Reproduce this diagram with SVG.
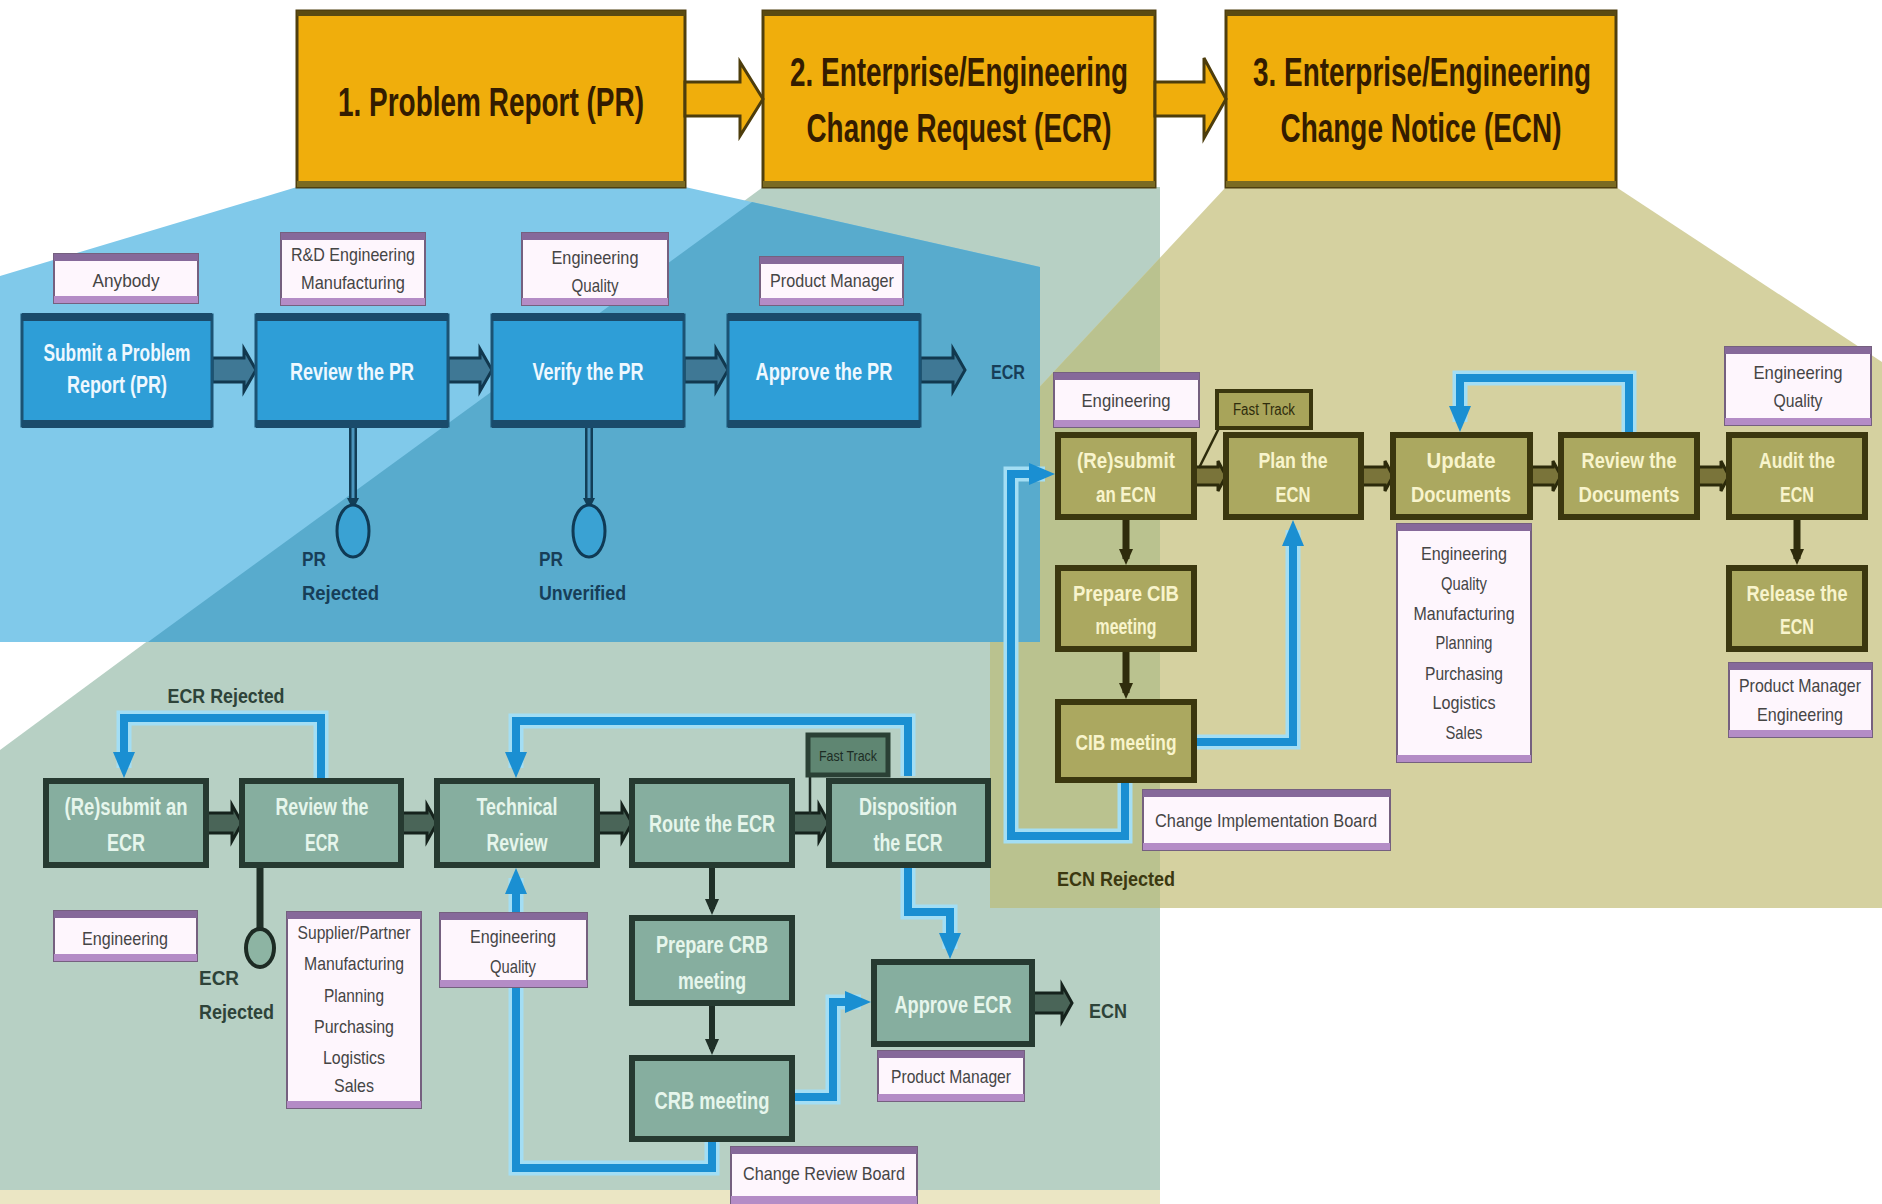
<svg xmlns="http://www.w3.org/2000/svg" width="1882" height="1204" viewBox="0 0 1882 1204">
<defs>
<style>
text{font-family:"Liberation Sans Narrow","Liberation Sans",Arial,sans-serif}
.ttl{font-size:40px;font-weight:bold;fill:#341c00;text-anchor:middle}
.obox{fill:#f0ae0c;stroke:#4f3f0e;stroke-width:3}
.oband{fill:#5a4a12}
.oband2{fill:#7a6a22}
.prbox{fill:#2e9ed7;stroke:#1b5374;stroke-width:3}
.prband{fill:#1a4b6b}
.tpr{font-size:24px;font-weight:bold;fill:#eef8ff;text-anchor:middle}
.ecrbox{fill:#86ae9f;stroke:#263a31;stroke-width:6}
.tecr{font-size:24px;font-weight:bold;fill:#e6f6ec;text-anchor:middle}
.ecnbox{fill:#aba860;stroke:#3b370f;stroke-width:6}
.tecn{font-size:22px;font-weight:bold;fill:#f8f4cc;text-anchor:middle}
.lbg{fill:#fef6fd;stroke:#75607f;stroke-width:2}
.ltop{fill:#86699a}
.lbot{fill:#b48cc6}
.tl{font-size:19px;fill:#454545;text-anchor:middle}
.npr{font-size:21px;font-weight:bold;fill:#173e58}
.necr{font-size:20px;font-weight:bold;fill:#2e4339}
.necn{font-size:20px;font-weight:bold;fill:#3b3810}
.halo{fill:none;stroke:#a3def4;stroke-width:15;stroke-linejoin:miter}
.bl{fill:none;stroke:#1a8fd2;stroke-width:8;stroke-linejoin:miter;marker-end:url(#bh)}
.fpr{fill:#3f7895;stroke:#11384f;stroke-width:3}
.fecr{fill:#4a6558;stroke:#15221c;stroke-width:3}
.fecn{fill:#7a743a;stroke:#2c2a0a;stroke-width:3}
.forg{fill:#f0ae0c;stroke:#4d3d0c;stroke-width:3}
.vd{fill:none;stroke:#1f2f27;stroke-width:6;marker-end:url(#dh)}
.vo{fill:none;stroke:#2f2c0c;stroke-width:7;marker-end:url(#oh)}
</style>
<marker id="bh" viewBox="0 0 26 22" refX="16" refY="11" markerWidth="26" markerHeight="22" markerUnits="userSpaceOnUse" orient="auto"><path d="M0,0 L26,11 L0,22 z" fill="#1a8fd2"/></marker>
<marker id="dh" viewBox="0 0 16 14" refX="10" refY="7" markerWidth="16" markerHeight="14" markerUnits="userSpaceOnUse" orient="auto"><path d="M0,0 L16,7 L0,14 z" fill="#1f2f27"/></marker>
<marker id="oh" viewBox="0 0 16 14" refX="10" refY="7" markerWidth="16" markerHeight="14" markerUnits="userSpaceOnUse" orient="auto"><path d="M0,0 L16,7 L0,14 z" fill="#2f2c0c"/></marker>
</defs>
<rect width="1882" height="1204" fill="#ffffff"/>
<g id="regions">
<polygon points="763,187 1160,187 1160,1190 0,1190 0,750" fill="#b7d0c4"/>
<rect x="0" y="1190" width="1160" height="14" fill="#ebe6c4"/>
<polygon points="1226,187 1616,187 1882,362 1882,908 990,908 990,440" fill="#d5d1a0"/>
<polygon points="1160,258 1160,908 990,908 990,440" fill="#bac28f"/>
<polygon points="297,187 685,187 1040,267 1040,642 0,642 0,276" fill="#80c9ea"/>
<polygon points="752,202 1040,267 1040,642 148,642" fill="#58abcd"/>
</g>
<g id="title-pr">
<rect class="obox" x="297" y="11" width="388" height="176"/>
<rect class="oband" x="297" y="11" width="388" height="5"/>
<rect class="oband2" x="297" y="181" width="388" height="6"/>
<text class="ttl" x="491" y="116" font-size="44" textLength="306" lengthAdjust="spacingAndGlyphs">1. Problem Report (PR)</text>
</g>
<g id="title-ecr">
<rect class="obox" x="763" y="11" width="392" height="176"/>
<rect class="oband" x="763" y="11" width="392" height="5"/>
<rect class="oband2" x="763" y="181" width="392" height="6"/>
<text class="ttl" x="959" y="86" textLength="338" lengthAdjust="spacingAndGlyphs">2. Enterprise/Engineering</text>
<text class="ttl" x="959" y="142" textLength="305" lengthAdjust="spacingAndGlyphs">Change Request (ECR)</text>
</g>
<g id="title-ecn">
<rect class="obox" x="1226" y="11" width="390" height="176"/>
<rect class="oband" x="1226" y="11" width="390" height="5"/>
<rect class="oband2" x="1226" y="181" width="390" height="6"/>
<text class="ttl" x="1422" y="86" textLength="338" lengthAdjust="spacingAndGlyphs">3. Enterprise/Engineering</text>
<text class="ttl" x="1421" y="142" textLength="281" lengthAdjust="spacingAndGlyphs">Change Notice (ECN)</text>
</g>
<g id="connectors">
<polygon class="forg" points="685,82 740,82 740,62 763,99 740,136 740,116 685,116"/>
<polygon class="forg" points="1155,82 1204,82 1204,58 1226,99 1204,138 1204,116 1155,116"/>
<polygon class="fpr" points="212,358 244,358 244,349 256,370 244,391 244,382 212,382"/>
<polygon class="fpr" points="448,358 480,358 480,349 492,370 480,391 480,382 448,382"/>
<polygon class="fpr" points="684,358 716,358 716,349 728,370 716,391 716,382 684,382"/>
<polygon class="fpr" points="920,358 953,358 953,349 965,370 953,391 953,382 920,382"/>
<line x1="353" y1="428" x2="353" y2="500" stroke="#123e57" stroke-width="8"/>
<line x1="353" y1="428" x2="353" y2="500" stroke="#4a95bd" stroke-width="3"/>
<polygon points="347,498 359,498 355,506 351,506" fill="#123e57"/>
<line x1="589" y1="428" x2="589" y2="500" stroke="#123e57" stroke-width="8"/>
<line x1="589" y1="428" x2="589" y2="500" stroke="#4a95bd" stroke-width="3"/>
<polygon points="583,498 595,498 591,506 587,506" fill="#123e57"/>
<polygon class="fecr" points="206,813 232,813 232,805 242,823 232,841 232,833 206,833"/>
<polygon class="fecr" points="401,813 427,813 427,805 437,823 427,841 427,833 401,833"/>
<polygon class="fecr" points="597,813 622,813 622,805 632,823 622,841 622,833 597,833"/>
<polygon class="fecr" points="792,813 819,813 819,805 829,823 819,841 819,833 792,833"/>
<polygon class="fecr" points="1032,993 1062,993 1062,985 1072,1003 1062,1021 1062,1013 1032,1013"/>
<line x1="260" y1="868" x2="260" y2="930" stroke="#1f2f27" stroke-width="7"/>
<line x1="810" y1="776" x2="810" y2="814" stroke="#1d2b24" stroke-width="2.5"/>
<path class="vd" d="M712,868 V909"/>
<path class="vd" d="M712,1006 V1049"/>
<polygon class="fecn" points="1194,467 1218,467 1218,461 1226,476 1218,491 1218,485 1194,485"/>
<polygon class="fecn" points="1361,467 1385,467 1385,461 1393,476 1385,491 1385,485 1361,485"/>
<polygon class="fecn" points="1530,467 1553,467 1553,461 1561,476 1553,491 1553,485 1530,485"/>
<polygon class="fecn" points="1697,467 1721,467 1721,461 1729,476 1721,491 1721,485 1697,485"/>
<line x1="1219" y1="428" x2="1199" y2="468" stroke="#2c2a0a" stroke-width="2.5"/>
<path class="vo" d="M1126,520 V559"/>
<path class="vo" d="M1126,652 V693"/>
<path class="vo" d="M1797,520 V559"/>
<path class="halo" d="M321,778 V718 H124 V768"/>
<path class="halo" d="M908,776 V721 H516 V768"/>
<path class="halo" d="M712,1142 V1168 H516 V878"/>
<path class="halo" d="M795,1097 H833 V1002 H861"/>
<path class="halo" d="M908,868 V912 H950 V949"/>
<path class="halo" d="M1629,432 V378 H1460 V422"/>
<path class="halo" d="M1197,742 H1293 V530"/>
<path class="halo" d="M1125,783 V836 H1011 V474 H1045"/>
<path class="bl" d="M321,778 V718 H124 V768"/>
<path class="bl" d="M908,776 V721 H516 V768"/>
<path class="bl" d="M712,1142 V1168 H516 V878"/>
<path class="bl" d="M795,1097 H833 V1002 H861"/>
<path class="bl" d="M908,868 V912 H950 V949"/>
<path class="bl" d="M1629,432 V378 H1460 V422"/>
<path class="bl" d="M1197,742 H1293 V530"/>
<path class="bl" d="M1125,783 V836 H1011 V474 H1045"/>
</g>
<g id="pr-submit"><rect class="prbox" x="22" y="315" width="190" height="111"/><rect class="prband" x="22" y="313" width="190" height="8"/><rect class="prband" x="22" y="420" width="190" height="8"/>
<text class="tpr" x="117" y="361" textLength="147" lengthAdjust="spacingAndGlyphs">Submit a Problem</text><text class="tpr" x="117" y="393" textLength="100" lengthAdjust="spacingAndGlyphs">Report (PR)</text></g>
<g id="pr-review"><rect class="prbox" x="256" y="315" width="192" height="111"/><rect class="prband" x="256" y="313" width="192" height="8"/><rect class="prband" x="256" y="420" width="192" height="8"/>
<text class="tpr" x="352" y="380" textLength="124" lengthAdjust="spacingAndGlyphs">Review the PR</text></g>
<g id="pr-verify"><rect class="prbox" x="492" y="315" width="192" height="111"/><rect class="prband" x="492" y="313" width="192" height="8"/><rect class="prband" x="492" y="420" width="192" height="8"/>
<text class="tpr" x="588" y="380" textLength="111" lengthAdjust="spacingAndGlyphs">Verify the PR</text></g>
<g id="pr-approve"><rect class="prbox" x="728" y="315" width="192" height="111"/><rect class="prband" x="728" y="313" width="192" height="8"/><rect class="prband" x="728" y="420" width="192" height="8"/>
<text class="tpr" x="824" y="380" textLength="137" lengthAdjust="spacingAndGlyphs">Approve the PR</text></g>
<g id="pr-rejected-end"><ellipse cx="353" cy="531" rx="16" ry="26" fill="#3aa2d3" stroke="#0f3a55" stroke-width="3"/>
<text class="npr" x="302" y="566" textLength="24" lengthAdjust="spacingAndGlyphs">PR</text><text class="npr" x="302" y="600" textLength="77" lengthAdjust="spacingAndGlyphs">Rejected</text></g>
<g id="pr-unverified-end"><ellipse cx="589" cy="531" rx="16" ry="26" fill="#3aa2d3" stroke="#0f3a55" stroke-width="3"/>
<text class="npr" x="539" y="566" textLength="24" lengthAdjust="spacingAndGlyphs">PR</text><text class="npr" x="539" y="600" textLength="87" lengthAdjust="spacingAndGlyphs">Unverified</text></g>
<g id="pr-out"><text class="npr" x="991" y="379" textLength="34" lengthAdjust="spacingAndGlyphs">ECR</text></g>
<g id="lbl-anybody"><rect class="lbg" x="54" y="254" width="144" height="49"/><rect class="ltop" x="54" y="254" width="144" height="7"/><rect class="lbot" x="54" y="296" width="144" height="7"/>
<text class="tl" x="126" y="287" textLength="67" lengthAdjust="spacingAndGlyphs">Anybody</text></g>
<g id="lbl-rd"><rect class="lbg" x="281" y="233" width="144" height="72"/><rect class="ltop" x="281" y="233" width="144" height="7"/><rect class="lbot" x="281" y="298" width="144" height="7"/>
<text class="tl" x="353" y="261" textLength="124" lengthAdjust="spacingAndGlyphs">R&amp;D Engineering</text><text class="tl" x="353" y="289" textLength="104" lengthAdjust="spacingAndGlyphs">Manufacturing</text></g>
<g id="lbl-engq1"><rect class="lbg" x="522" y="233" width="146" height="72"/><rect class="ltop" x="522" y="233" width="146" height="7"/><rect class="lbot" x="522" y="298" width="146" height="7"/>
<text class="tl" x="595" y="264" textLength="87" lengthAdjust="spacingAndGlyphs">Engineering</text><text class="tl" x="595" y="292" textLength="47" lengthAdjust="spacingAndGlyphs">Quality</text></g>
<g id="lbl-pm1"><rect class="lbg" x="760" y="257" width="143" height="48"/><rect class="ltop" x="760" y="257" width="143" height="7"/><rect class="lbot" x="760" y="298" width="143" height="7"/>
<text class="tl" x="832" y="287" textLength="124" lengthAdjust="spacingAndGlyphs">Product Manager</text></g>
<g id="ecr-resubmit"><rect class="ecrbox" x="46" y="781" width="160" height="84"/>
<text class="tecr" x="126" y="815" textLength="123" lengthAdjust="spacingAndGlyphs">(Re)submit an</text><text class="tecr" x="126" y="851" textLength="38" lengthAdjust="spacingAndGlyphs">ECR</text></g>
<g id="ecr-review"><rect class="ecrbox" x="242" y="781" width="159" height="84"/>
<text class="tecr" x="322" y="815" textLength="93" lengthAdjust="spacingAndGlyphs">Review the</text><text class="tecr" x="322" y="851" textLength="34" lengthAdjust="spacingAndGlyphs">ECR</text></g>
<g id="ecr-technical"><rect class="ecrbox" x="437" y="781" width="160" height="84"/>
<text class="tecr" x="517" y="815" textLength="81" lengthAdjust="spacingAndGlyphs">Technical</text><text class="tecr" x="517" y="851" textLength="61" lengthAdjust="spacingAndGlyphs">Review</text></g>
<g id="ecr-route"><rect class="ecrbox" x="632" y="781" width="160" height="84"/>
<text class="tecr" x="712" y="832" textLength="126" lengthAdjust="spacingAndGlyphs">Route the ECR</text></g>
<g id="ecr-disposition"><rect class="ecrbox" x="829" y="781" width="159" height="84"/>
<text class="tecr" x="908" y="815" textLength="98" lengthAdjust="spacingAndGlyphs">Disposition</text><text class="tecr" x="908" y="851" textLength="69" lengthAdjust="spacingAndGlyphs">the ECR</text></g>
<g id="ecr-fasttrack"><rect x="808" y="735" width="80" height="40" fill="#5f8672" stroke="#2a4035" stroke-width="5"/>
<text x="848" y="761" font-size="15" fill="#1d2d25" text-anchor="middle" textLength="58" lengthAdjust="spacingAndGlyphs">Fast Track</text></g>
<g id="ecr-prepare"><rect class="ecrbox" x="632" y="918" width="160" height="85"/>
<text class="tecr" x="712" y="953" textLength="112" lengthAdjust="spacingAndGlyphs">Prepare CRB</text><text class="tecr" x="712" y="989" textLength="68" lengthAdjust="spacingAndGlyphs">meeting</text></g>
<g id="ecr-crb"><rect class="ecrbox" x="632" y="1058" width="160" height="81"/>
<text class="tecr" x="712" y="1109" textLength="115" lengthAdjust="spacingAndGlyphs">CRB meeting</text></g>
<g id="ecr-approve"><rect class="ecrbox" x="874" y="962" width="158" height="82"/>
<text class="tecr" x="953" y="1013" textLength="117" lengthAdjust="spacingAndGlyphs">Approve ECR</text></g>
<g id="ecr-rejected-end"><ellipse cx="260" cy="948" rx="14" ry="19" fill="#8db4a3" stroke="#1d2b24" stroke-width="4"/>
<text class="necr" x="199" y="985" textLength="40" lengthAdjust="spacingAndGlyphs">ECR</text><text class="necr" x="199" y="1019" textLength="75" lengthAdjust="spacingAndGlyphs">Rejected</text></g>
<g id="ecr-notes"><text class="necr" x="226" y="703" text-anchor="middle" textLength="117" lengthAdjust="spacingAndGlyphs">ECR Rejected</text>
<text class="necr" x="1089" y="1018" textLength="38" lengthAdjust="spacingAndGlyphs">ECN</text></g>
<g id="lbl-eng2"><rect class="lbg" x="54" y="911" width="143" height="50"/><rect class="ltop" x="54" y="911" width="143" height="7"/><rect class="lbot" x="54" y="954" width="143" height="7"/>
<text class="tl" x="125" y="945" textLength="86" lengthAdjust="spacingAndGlyphs">Engineering</text></g>
<g id="lbl-supplier"><rect class="lbg" x="287" y="912" width="134" height="196"/><rect class="ltop" x="287" y="912" width="134" height="7"/><rect class="lbot" x="287" y="1101" width="134" height="7"/>
<text class="tl" x="354" y="939" textLength="113" lengthAdjust="spacingAndGlyphs">Supplier/Partner</text>
<text class="tl" x="354" y="970" textLength="100" lengthAdjust="spacingAndGlyphs">Manufacturing</text>
<text class="tl" x="354" y="1002" textLength="60" lengthAdjust="spacingAndGlyphs">Planning</text>
<text class="tl" x="354" y="1033" textLength="80" lengthAdjust="spacingAndGlyphs">Purchasing</text>
<text class="tl" x="354" y="1064" textLength="62" lengthAdjust="spacingAndGlyphs">Logistics</text>
<text class="tl" x="354" y="1092" textLength="40" lengthAdjust="spacingAndGlyphs">Sales</text></g>
<g id="lbl-engq2"><rect class="lbg" x="440" y="913" width="147" height="74"/><rect class="ltop" x="440" y="913" width="147" height="7"/><rect class="lbot" x="440" y="980" width="147" height="7"/>
<text class="tl" x="513" y="943" textLength="86" lengthAdjust="spacingAndGlyphs">Engineering</text><text class="tl" x="513" y="973" textLength="46" lengthAdjust="spacingAndGlyphs">Quality</text></g>
<g id="lbl-pm2"><rect class="lbg" x="878" y="1051" width="146" height="50"/><rect class="ltop" x="878" y="1051" width="146" height="7"/><rect class="lbot" x="878" y="1094" width="146" height="7"/>
<text class="tl" x="951" y="1083" textLength="120" lengthAdjust="spacingAndGlyphs">Product Manager</text></g>
<g id="lbl-crb"><rect class="lbg" x="731" y="1147" width="186" height="62"/><rect class="ltop" x="731" y="1147" width="186" height="7"/><rect class="lbot" x="731" y="1196" width="186" height="8"/>
<text class="tl" x="824" y="1180" textLength="162" lengthAdjust="spacingAndGlyphs">Change Review Board</text></g>
<g id="ecn-resubmit"><rect class="ecnbox" x="1058" y="435" width="136" height="82"/>
<text class="tecn" x="1126" y="468" textLength="98" lengthAdjust="spacingAndGlyphs">(Re)submit</text><text class="tecn" x="1126" y="502" textLength="60" lengthAdjust="spacingAndGlyphs">an ECN</text></g>
<g id="ecn-plan"><rect class="ecnbox" x="1226" y="435" width="135" height="82"/>
<text class="tecn" x="1293" y="468" textLength="69" lengthAdjust="spacingAndGlyphs">Plan the</text><text class="tecn" x="1293" y="502" textLength="35" lengthAdjust="spacingAndGlyphs">ECN</text></g>
<g id="ecn-update"><rect class="ecnbox" x="1393" y="435" width="137" height="82"/>
<text class="tecn" x="1461" y="468" textLength="69" lengthAdjust="spacingAndGlyphs">Update</text><text class="tecn" x="1461" y="502" textLength="100" lengthAdjust="spacingAndGlyphs">Documents</text></g>
<g id="ecn-review"><rect class="ecnbox" x="1561" y="435" width="136" height="82"/>
<text class="tecn" x="1629" y="468" textLength="95" lengthAdjust="spacingAndGlyphs">Review the</text><text class="tecn" x="1629" y="502" textLength="101" lengthAdjust="spacingAndGlyphs">Documents</text></g>
<g id="ecn-audit"><rect class="ecnbox" x="1729" y="435" width="136" height="82"/>
<text class="tecn" x="1797" y="468" textLength="76" lengthAdjust="spacingAndGlyphs">Audit the</text><text class="tecn" x="1797" y="502" textLength="34" lengthAdjust="spacingAndGlyphs">ECN</text></g>
<g id="ecn-prepare"><rect class="ecnbox" x="1058" y="568" width="136" height="81"/>
<text class="tecn" x="1126" y="601" textLength="106" lengthAdjust="spacingAndGlyphs">Prepare CIB</text><text class="tecn" x="1126" y="634" textLength="61" lengthAdjust="spacingAndGlyphs">meeting</text></g>
<g id="ecn-cib"><rect class="ecnbox" x="1058" y="702" width="136" height="78"/>
<text class="tecn" x="1126" y="750" textLength="101" lengthAdjust="spacingAndGlyphs">CIB meeting</text></g>
<g id="ecn-release"><rect class="ecnbox" x="1729" y="568" width="136" height="81"/>
<text class="tecn" x="1797" y="601" textLength="101" lengthAdjust="spacingAndGlyphs">Release the</text><text class="tecn" x="1797" y="634" textLength="34" lengthAdjust="spacingAndGlyphs">ECN</text></g>
<g id="ecn-fasttrack"><rect x="1217" y="391" width="94" height="37" fill="#a8a45a" stroke="#3a360e" stroke-width="4"/>
<text x="1264" y="415" font-size="16" fill="#2f2c0c" text-anchor="middle" textLength="62" lengthAdjust="spacingAndGlyphs">Fast Track</text></g>
<g id="ecn-notes"><text class="necn" x="1116" y="886" text-anchor="middle" textLength="118" lengthAdjust="spacingAndGlyphs">ECN Rejected</text></g>
<g id="lbl-eng3"><rect class="lbg" x="1054" y="373" width="145" height="54"/><rect class="ltop" x="1054" y="373" width="145" height="7"/><rect class="lbot" x="1054" y="420" width="145" height="7"/>
<text class="tl" x="1126" y="407" textLength="89" lengthAdjust="spacingAndGlyphs">Engineering</text></g>
<g id="lbl-engq3"><rect class="lbg" x="1725" y="347" width="146" height="78"/><rect class="ltop" x="1725" y="347" width="146" height="7"/><rect class="lbot" x="1725" y="418" width="146" height="7"/>
<text class="tl" x="1798" y="379" textLength="89" lengthAdjust="spacingAndGlyphs">Engineering</text><text class="tl" x="1798" y="407" textLength="49" lengthAdjust="spacingAndGlyphs">Quality</text></g>
<g id="lbl-update"><rect class="lbg" x="1397" y="524" width="134" height="238"/><rect class="ltop" x="1397" y="524" width="134" height="7"/><rect class="lbot" x="1397" y="755" width="134" height="7"/>
<text class="tl" x="1464" y="560" textLength="86" lengthAdjust="spacingAndGlyphs">Engineering</text>
<text class="tl" x="1464" y="590" textLength="46" lengthAdjust="spacingAndGlyphs">Quality</text>
<text class="tl" x="1464" y="620" textLength="101" lengthAdjust="spacingAndGlyphs">Manufacturing</text>
<text class="tl" x="1464" y="649" textLength="57" lengthAdjust="spacingAndGlyphs">Planning</text>
<text class="tl" x="1464" y="680" textLength="78" lengthAdjust="spacingAndGlyphs">Purchasing</text>
<text class="tl" x="1464" y="709" textLength="63" lengthAdjust="spacingAndGlyphs">Logistics</text>
<text class="tl" x="1464" y="739" textLength="37" lengthAdjust="spacingAndGlyphs">Sales</text></g>
<g id="lbl-pmeng"><rect class="lbg" x="1729" y="663" width="143" height="74"/><rect class="ltop" x="1729" y="663" width="143" height="7"/><rect class="lbot" x="1729" y="730" width="143" height="7"/>
<text class="tl" x="1800" y="692" textLength="122" lengthAdjust="spacingAndGlyphs">Product Manager</text><text class="tl" x="1800" y="721" textLength="86" lengthAdjust="spacingAndGlyphs">Engineering</text></g>
<g id="lbl-cib"><rect class="lbg" x="1143" y="790" width="247" height="60"/><rect class="ltop" x="1143" y="790" width="247" height="7"/><rect class="lbot" x="1143" y="843" width="247" height="7"/>
<text class="tl" x="1266" y="827" textLength="222" lengthAdjust="spacingAndGlyphs">Change Implementation Board</text></g>
</svg>
